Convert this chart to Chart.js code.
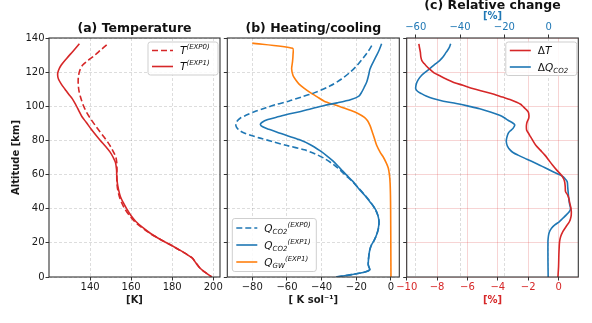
<!DOCTYPE html>
<html>
<head>
<meta charset="utf-8">
<title>Temperature, heating/cooling and relative change</title>
<script src="https://cdn.jsdelivr.net/npm/chart.js@4.4.1/dist/chart.umd.min.js"></script>
<style>
  body { margin: 0; background: #fff; }
  #fig { position: relative; width: 592px; height: 323px; }
  #fig canvas { position: absolute; left: 0; top: 0; }
</style>
</head>
<body>
<div id="fig">
  <canvas id="chartA" width="592" height="323"></canvas>
  <canvas id="chartB" width="592" height="323"></canvas>
  <canvas id="chartC" width="592" height="323"></canvas>
</div>
<script>
// values: altitude [km] and the quantity at that altitude

// (a) temperature [K]
const altTemp0 = [136, 133, 129.8, 127, 124, 121, 118, 115, 112, 109, 106, 103, 100, 96.5, 92.8, 89, 85, 82, 79, 76, 73, 70, 67, 63, 59.7, 55, 51, 47, 43.5, 40, 36, 32.5, 29, 25.5, 22, 19, 16, 13, 11, 8.5, 5.3, 2.5, 0]
const temp0 = [148.1, 145.2, 142.2, 139.2, 136.3, 135.0, 134.4, 134.2, 134.3, 134.6, 135.2, 136.0, 136.9, 138.3, 140.2, 142.4, 144.9, 146.8, 148.6, 150.2, 151.5, 152.6, 153.0, 153.1, 153.0, 153.1, 153.5, 154.3, 155.4, 156.9, 159.2, 161.7, 165.2, 169.3, 174.3, 178.9, 183.3, 187.5, 189.9, 191.4, 193.5, 196.3, 199.3]
const altTemp1 = [136.6, 132, 128, 124, 121, 118.5, 116, 113, 110, 107, 104.5, 101, 97.5, 94, 90.5, 87, 83.5, 80, 76.5, 73.3, 70, 67, 63, 59.7, 55, 51, 47, 43.5, 40, 36, 32.5, 29, 25.5, 22, 19, 16, 13, 11, 8.5, 5.3, 2.5, 0]
const temp1 = [134.8, 131.5, 128.6, 125.9, 124.6, 124.2, 124.6, 126.0, 127.8, 129.6, 131.3, 133.0, 134.5, 136.0, 138.2, 140.3, 142.6, 145.0, 147.6, 149.7, 151.3, 152.4, 152.9, 153.0, 153.3, 153.9, 154.8, 156.2, 157.8, 159.9, 162.3, 165.6, 169.5, 174.3, 178.9, 183.3, 187.5, 189.9, 191.4, 193.5, 196.3, 199.3]

// (b) heating/cooling [K sol-1]
const altQco2Exp0 = [135.5, 132, 128.5, 124, 120, 116, 112, 108, 105.5, 103, 101, 99, 97, 95, 93, 91, 89.5, 88, 86, 84.5, 83, 81.5, 79.5, 77, 74.5, 72, 69.5, 66.5, 63.6, 59.7, 56, 52, 48, 44, 40, 36.4, 32.5, 28.5, 24.7, 21.5, 18.9, 16, 13, 10, 7.2, 5.5, 4.3, 2.9, 1.4, 0]
const qco2Exp0 = [-11.1, -13.3, -15.9, -19.5, -23.5, -28.5, -35, -44, -51.5, -59, -66.5, -72.5, -78.5, -83, -87, -89, -89.5, -89.2, -87.6, -85, -81, -76, -69, -60, -50, -43.5, -38.5, -34, -30.4, -26.3, -22.3, -18.6, -15.1, -11.9, -9.3, -7.7, -6.9, -7.2, -8.3, -9.7, -11.2, -12.2, -12.7, -13.0, -13.1, -12.6, -12.1, -15, -22.7, -31.7]
const altQco2Exp1 = [136.6, 133, 129.8, 127, 124, 121.5, 119.6, 117, 114.2, 111, 108.4, 106, 104, 102, 100.5, 98.6, 97, 95.5, 94, 92.2, 90.5, 89.3, 88, 86.5, 85, 83, 80.5, 77.5, 74, 71, 68, 65, 62, 59.7, 56, 52, 48, 44, 41, 38.3, 35.5, 32.5, 28.5, 24.7, 21.5, 18.9, 16, 13, 10, 7.2, 5.5, 4.3, 2.9, 1.4, 0]
const qco2Exp1 = [-5.4, -6.8, -8.3, -9.7, -11.2, -12.2, -12.6, -13.2, -14, -15.5, -16.8, -18.5, -23, -31, -38.5, -46, -52, -59, -64.5, -71, -74.5, -75.3, -74, -70.5, -66, -60.5, -53, -46.5, -41, -37, -33.5, -30.6, -27.8, -25.6, -22, -18.8, -15.3, -12.1, -9.8, -8.3, -7.4, -6.9, -7.3, -8.3, -9.7, -11.2, -12.2, -12.7, -13.0, -13.1, -12.6, -12.1, -15, -22.7, -31.7]
const altQgw = [137, 134, 130, 126, 122, 118, 115.5, 113, 110.5, 108, 105.5, 103, 101, 99.5, 97.5, 95.5, 93.5, 91.5, 88.5, 85, 81, 77, 73, 70, 67, 64, 60, 55, 48, 40, 20, 0]
const qgw = [-80, -56.7, -56.5, -56.8, -57.3, -56.5, -55, -53, -50, -46.5, -42.5, -38.5, -33, -28.5, -23, -18.5, -15.3, -13.5, -12, -10.8, -9.5, -8.2, -6.2, -4.3, -2.8, -1.6, -0.9, -0.5, -0.3, -0.2, -0.1, 0]

// (c) relative change [%]
const altDeltaT = [136.6, 134, 131.7, 129, 126.8, 125, 124, 121.8, 119.6, 118, 116, 114, 112.3, 110.3, 108.4, 107, 105.4, 104, 102.5, 101.2, 100, 98.3, 96.7, 94.7, 92.8, 91.3, 89.9, 88, 86, 84.5, 83, 80, 77.2, 74.3, 71.4, 68.5, 65.6, 62.6, 59.7, 57.7, 55.8, 52.9, 50, 48, 46, 44, 41, 38.3, 35.4, 32.5, 29.6, 26.7, 23.7, 20.8, 17, 13, 6, 0]
const deltaT = [-9.2, -9.15, -9.1, -9.07, -9.0, -8.85, -8.75, -8.5, -8.2, -7.85, -7.4, -6.9, -6.3, -5.6, -4.8, -4.25, -3.7, -3.2, -2.8, -2.5, -2.35, -2.15, -2.0, -1.95, -1.97, -2.05, -2.1, -2.12, -2.1, -2.0, -1.9, -1.7, -1.5, -1.2, -0.9, -0.65, -0.4, -0.12, 0.18, 0.32, 0.4, 0.44, 0.46, 0.6, 0.68, 0.72, 0.8, 0.84, 0.82, 0.72, 0.5, 0.29, 0.14, 0.07, 0.04, 0.02, 0, -0.04]
const altDeltaQ = [136.6, 134, 131.7, 129, 126.8, 124.5, 122, 120, 118, 115.5, 113.2, 110.3, 108.8, 107.4, 106, 104.5, 103, 101.6, 100.1, 98.6, 96.7, 94.7, 93.3, 91.8, 90.5, 89.2, 88, 87, 85.5, 84, 81.5, 79.2, 76.7, 74.3, 72.8, 71.4, 69, 66.5, 64, 61.7, 60, 58.8, 57.3, 55.8, 53, 50, 47, 44, 42, 40, 38.2, 36.4, 34.4, 32.5, 30.5, 28.6, 26.6, 24.7, 22.7, 20.8, 10, 0]
const deltaQ = [-44.2, -45, -46.2, -47.6, -49.2, -51.4, -53.7, -55.6, -57.4, -58.9, -59.7, -60, -59.2, -57.4, -55.3, -52.2, -47.5, -41.7, -36.2, -31.1, -26.3, -22.1, -20, -18.3, -16.5, -15.3, -15.6, -16.1, -17.4, -18.3, -18.9, -19.1, -18.6, -17.3, -15.9, -13.8, -9.8, -5.6, -1.6, 2.0, 4.8, 6.5, 7.6, 8.4, 8.6, 8.8, 9.0, 9.3, 9.6, 9.9, 9.3, 8.0, 6.4, 4.9, 2.8, 1.3, 0.4, 0, -0.2, -0.3, -0.3, -0.2]

// tick labels
const altTicks = [0, 20, 40, 60, 80, 100, 120, 140]
const tempTicks = [140, 160, 180, 200]
const heatTicks = [-80, -60, -40, -20, 0]
const deltaTTicks = [-10, -8, -6, -4, -2, 0]
const deltaQTicks = [-60, -40, -20, 0]

Chart.defaults.font.family = "'DejaVu Sans', sans-serif"
Chart.defaults.font.size = 10
Chart.defaults.color = '#1a1a1a'
Chart.defaults.animation = false

const RED = '#d62728', BLUE = '#1f77b4', ORANGE = '#ff7f0e'
const GRID = 'rgba(0,0,0,0.17)'
const PINK = 'rgba(214,39,40,0.2)'
const LN = '10.5px "DejaVu Sans"', LI = 'italic 10.5px "DejaVu Sans"', LS = 'italic 7px "DejaVu Sans"'

const minus = v => String(v).replace('-', '\u2212')

function curve(alt, val, color, dashed, axis, tension) {
  return {
    data: alt.map((a, i) => ({ x: val[i], y: a })),
    borderColor: color,
    borderWidth: 1.6,
    borderDash: dashed ? [6, 3] : [],
    pointRadius: 0,
    showLine: true,
    tension: tension === undefined ? 0.3 : tension,
    xAxisID: axis || 'x'
  }
}

function fixedTicks(list) {
  return scale => { scale.ticks = list.map(v => ({ value: v })) }
}

function xAxis(min, max, ticks, title, color, gridColor, dash) {
  return {
    type: 'linear', position: 'bottom', min: min, max: max,
    afterBuildTicks: fixedTicks(ticks),
    afterFit: s => { s.height = 46 },
    ticks: { callback: minus, color: color, padding: 1, maxRotation: 0, autoSkip: false },
    grid: { color: gridColor, lineWidth: dash.length ? 0.8 : 1, tickLength: 3.5, tickColor: '#333', tickWidth: 1 },
    border: { display: false, dash: dash },
    title: { display: true, text: title, color: color, font: { weight: 'bold', size: 10 }, padding: { top: 0, bottom: 17 } }
  }
}

function yAxis(labels, gridColor, dash) {
  return {
    type: 'linear', min: 0, max: 140,
    afterBuildTicks: fixedTicks(altTicks),
    afterFit: s => { s.width = labels ? 49 : 4 },
    ticks: { display: labels, padding: 1, autoSkip: false },
    grid: { color: gridColor, lineWidth: dash.length ? 0.8 : 1, tickLength: 3.5, tickColor: '#333', tickWidth: 1 },
    border: { display: false, dash: dash },
    title: { display: labels, text: 'Altitude [km]', font: { weight: 'bold', size: 10 }, padding: { top: 10 } }
  }
}

// box around the plot area, like matplotlib spines
const frame = {
  id: 'frame',
  afterDatasetsDraw(chart) {
    const a = chart.chartArea, ctx = chart.ctx
    ctx.save()
    ctx.strokeStyle = '#333'
    ctx.lineWidth = 1.1
    ctx.strokeRect(a.left, a.top, a.right - a.left, a.bottom - a.top)
    ctx.restore()
  }
}

function panelTitle(text, y) {
  return {
    id: 'panelTitle',
    afterDraw(chart) {
      const a = chart.chartArea, ctx = chart.ctx
      ctx.save()
      ctx.font = 'bold 12.5px "DejaVu Sans"'
      ctx.fillStyle = '#111'
      ctx.textAlign = 'center'
      ctx.textBaseline = 'middle'
      ctx.fillText(text, (a.left + a.right) / 2, y)
      ctx.restore()
    }
  }
}

// legend with sub/superscripts (matplotlib mathtext style)
function legendBox(items, pos) {
  return {
    id: 'legendBox',
    afterDraw(chart) {
      const ctx = chart.ctx, a = chart.chartArea
      const h = pos.pad * 2 + (items.length - 1) * pos.row
      const left = pos.right !== undefined ? a.right - pos.right - pos.w : a.left + pos.left
      const top = pos.top !== undefined ? a.top + pos.top : a.bottom - pos.bottom - h
      ctx.save()
      ctx.beginPath()
      if (ctx.roundRect) ctx.roundRect(left, top, pos.w, h, 2.5)
      else ctx.rect(left, top, pos.w, h)
      ctx.fillStyle = 'rgba(255,255,255,0.85)'
      ctx.fill()
      ctx.strokeStyle = '#cfcfcf'
      ctx.lineWidth = 1
      ctx.stroke()
      items.forEach((it, i) => {
        const ds = chart.data.datasets[it.ds]
        const y = top + pos.pad + i * pos.row
        ctx.beginPath()
        ctx.setLineDash(ds.borderDash)
        ctx.strokeStyle = ds.borderColor
        ctx.lineWidth = ds.borderWidth
        ctx.moveTo(left + 4, y)
        ctx.lineTo(left + 25, y)
        ctx.stroke()
        ctx.setLineDash([])
        ctx.fillStyle = '#111'
        ctx.textAlign = 'left'
        ctx.textBaseline = 'alphabetic'
        let x = left + 32
        it.label.forEach(p => {
          ctx.font = p[1]
          ctx.fillText(p[0], x, y + 3.7 + p[2])
          x += ctx.measureText(p[0]).width
        })
      })
      ctx.restore()
    }
  }
}

const noLegend = { legend: { display: false }, tooltip: { enabled: false } }

new Chart(document.getElementById('chartA'), {
  type: 'scatter',
  data: { datasets: [
    curve(altTemp0, temp0, RED, true),
    curve(altTemp1, temp1, RED, false)
  ] },
  options: {
    responsive: false,
    layout: { padding: { left: 0, right: 372, top: 38, bottom: 0 } },
    plugins: noLegend,
    scales: {
      x: xAxis(120, 203.3, tempTicks, '[K]', '#1a1a1a', GRID, [3, 2]),
      y: yAxis(true, GRID, [3, 2])
    }
  },
  plugins: [frame, panelTitle('(a) Temperature', 29), legendBox([
    { ds: 0, label: [['T', LI, 0], ['(EXP0)', LS, -5.2]] },
    { ds: 1, label: [['T', LI, 0], ['(EXP1)', LS, -5.2]] }
  ], { right: 2, top: 4, w: 70, pad: 8.5, row: 16 })]
})

new Chart(document.getElementById('chartB'), {
  type: 'scatter',
  data: { datasets: [
    curve(altQco2Exp0, qco2Exp0, BLUE, true),
    curve(altQco2Exp1, qco2Exp1, BLUE, false),
    curve(altQgw, qgw, ORANGE, false, 'x', 0.2)
  ] },
  options: {
    responsive: false,
    layout: { padding: { left: 223.3, right: 192.7, top: 38, bottom: 0 } },
    plugins: noLegend,
    scales: {
      x: xAxis(-94.4, 4.8, heatTicks, '[ K sol\u207b\u00b9]', '#1a1a1a', GRID, [3, 2]),
      y: yAxis(false, GRID, [3, 2])
    }
  },
  plugins: [frame, panelTitle('(b) Heating/cooling', 29), legendBox([
    { ds: 0, label: [['Q', LI, 0], ['CO2', LS, 2.3], ['(EXP0)', LS, -5.2]] },
    { ds: 1, label: [['Q', LI, 0], ['CO2', LS, 2.3], ['(EXP1)', LS, -5.2]] },
    { ds: 2, label: [['Q', LI, 0], ['GW', LS, 2.3], ['(EXP1)', LS, -5.2]] }
  ], { left: 5, bottom: 5.5, w: 84, pad: 9.5, row: 17 })]
})

new Chart(document.getElementById('chartC'), {
  type: 'scatter',
  data: { datasets: [
    curve(altDeltaT, deltaT, RED, false, 'x'),
    curve(altDeltaQ, deltaQ, BLUE, false, 'x2')
  ] },
  options: {
    responsive: false,
    layout: { padding: { left: 402.7, right: 13.7, top: 0, bottom: 0 } },
    plugins: noLegend,
    scales: {
      x: xAxis(-10, 1.3, deltaTTicks, '[%]', RED, PINK, []),
      x2: {
        type: 'linear', position: 'top', min: -64.06, max: 13.4,
        afterBuildTicks: fixedTicks(deltaQTicks),
        afterFit: s => { s.height = 38 },
        ticks: { callback: minus, color: BLUE, padding: 1, maxRotation: 0, autoSkip: false },
        grid: { color: GRID, lineWidth: 0.8, tickLength: 3.5, tickColor: '#333', tickWidth: 1 },
        border: { display: false, dash: [3, 2] },
        title: { display: true, text: '[%]', color: BLUE, font: { weight: 'bold', size: 10 }, padding: { top: 10, bottom: 0 } }
      },
      y: yAxis(false, PINK, [])
    }
  },
  plugins: [frame, panelTitle('(c) Relative change', 6), legendBox([
    { ds: 0, label: [['\u0394', LN, 0], ['T', LI, 0]] },
    { ds: 1, label: [['\u0394', LN, 0], ['Q', LI, 0], ['CO2', LS, 2.3]] }
  ], { right: 1.5, top: 4, w: 71, pad: 8.5, row: 16.5 })]
})
</script>
</body>
</html>
